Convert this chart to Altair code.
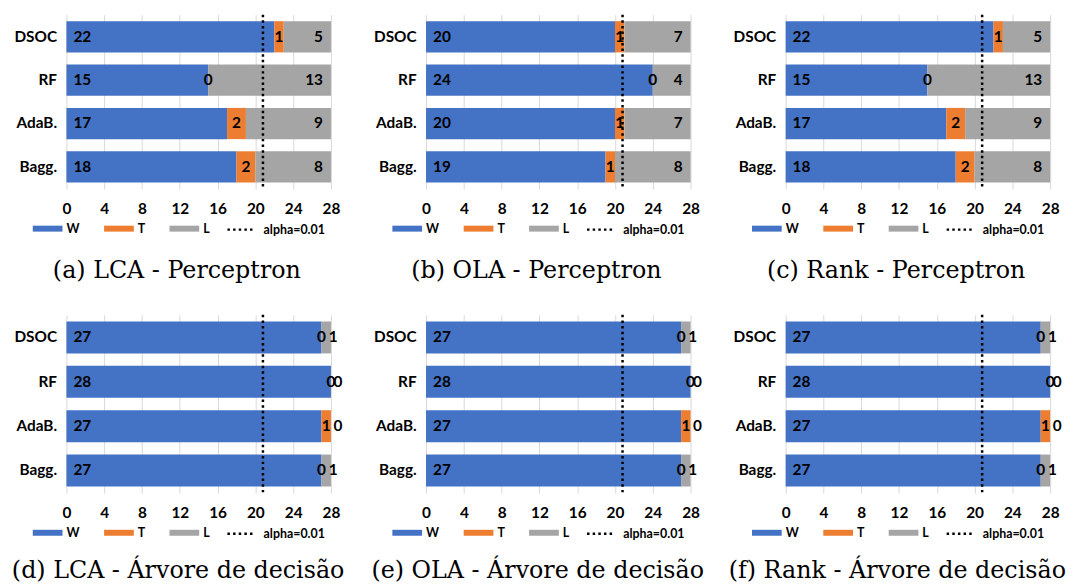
import altair as alt
import pandas as pd

# ---------------- data ----------------
methods = ["DSOC", "RF", "AdaB.", "Bagg."]
outcomes = ["W", "T", "L"]
outcome_colors = ["#4472C4", "#ED7D31", "#A5A5A5"]
x_ticks = [0, 4, 8, 12, 16, 20, 24, 28]
alpha_label = "alpha=0.01"
alpha_critical = 20.8

lca_perc_W = [22, 15, 17, 18]
lca_perc_T = [1, 0, 2, 2]
lca_perc_L = [5, 13, 9, 8]

ola_perc_W = [20, 24, 20, 19]
ola_perc_T = [1, 0, 1, 1]
ola_perc_L = [7, 4, 7, 8]

rank_perc_W = [22, 15, 17, 18]
rank_perc_T = [1, 0, 2, 2]
rank_perc_L = [5, 13, 9, 8]

lca_tree_W = [27, 28, 27, 27]
lca_tree_T = [0, 0, 1, 0]
lca_tree_L = [1, 0, 0, 1]

ola_tree_W = [27, 28, 27, 27]
ola_tree_T = [0, 0, 1, 0]
ola_tree_L = [1, 0, 0, 1]

rank_tree_W = [27, 28, 27, 27]
rank_tree_T = [0, 0, 1, 0]
rank_tree_L = [1, 0, 0, 1]

captions = [
    "(a) LCA - Perceptron",
    "(b) OLA - Perceptron",
    "(c) Rank - Perceptron",
    "(d) LCA - Árvore de decisão",
    "(e) OLA - Árvore de decisão",
    "(f) Rank - Árvore de decisão",
]

panel_series = [
    (lca_perc_W, lca_perc_T, lca_perc_L),
    (ola_perc_W, ola_perc_T, ola_perc_L),
    (rank_perc_W, rank_perc_T, rank_perc_L),
    (lca_tree_W, lca_tree_T, lca_tree_L),
    (ola_tree_W, ola_tree_T, ola_tree_L),
    (rank_tree_W, rank_tree_T, rank_tree_L),
]

SANS = "Lato"
PLOT_W = 267
ROW_H = [176, 176, 176, 180, 180, 180]
LEGEND_Y = [201, 201, 201, 205, 205, 205]
TITLE_OFFSET = [23, 23, 23, 19, 19, 19]
FS = 15.5
LEG_FS = 12.5


def make_panel(W, T, L, caption, h, ly, toff):
    rows = []
    for i, m in enumerate(methods):
        for k, (o, v) in enumerate(zip(outcomes, (W[i], T[i], L[i]))):
            rows.append({"method": m, "outcome": o, "value": v, "order": k})
    df = pd.DataFrame(rows)

    base = alt.Chart(df).transform_stack(
        stack="value", groupby=["method"], sort=[alt.SortField("order")], as_=["x0", "x1"]
    ).transform_calculate(mid="(datum.x0 + datum.x1) / 2")

    y_enc = alt.Y(
        "method:N",
        sort=methods,
        scale=alt.Scale(paddingInner=0.28, paddingOuter=0.15),
        axis=alt.Axis(title=None),
    )
    x_scale = alt.Scale(domain=[0, 28], nice=False, zero=True)

    bars = base.mark_bar().encode(
        y=y_enc,
        x=alt.X("x0:Q", scale=x_scale, axis=alt.Axis(title=None, values=x_ticks)),
        x2="x1:Q",
        color=alt.Color(
            "outcome:N",
            scale=alt.Scale(domain=outcomes, range=outcome_colors),
            legend=alt.Legend(
                title=None, orient="none", direction="horizontal",
                legendX=-34, legendY=ly, padding=0,
                symbolType="M-1,-0.2H1V0.2H-1Z", symbolSize=900,
                symbolStrokeWidth=0, columnPadding=24, gridAlign="none",
                labelFont=SANS, labelFontWeight="bold", labelFontSize=LEG_FS,
                labelColor="black", labelOffset=4,
            ),
        ),
        order=alt.Order("order:Q"),
    )

    txt = dict(font=SANS, fontWeight="bold", fontSize=FS, color="black", baseline="middle")
    ylab = alt.Y("method:N", sort=methods, axis=alt.Axis(title=None))

    def xlab(f):
        return alt.X(f, scale=x_scale, axis=alt.Axis(title=None, values=x_ticks))

    w_lab = base.transform_filter("datum.outcome == 'W'").mark_text(
        align="left", dx=7, **txt
    ).encode(y=ylab, x=xlab("x0:Q"), text="value:Q")

    t_lab = base.transform_filter("datum.outcome == 'T'").mark_text(
        align="center", **txt
    ).encode(y=ylab, x=xlab("mid:Q"), text="value:Q")

    l_big = base.transform_filter("datum.outcome == 'L' && datum.value >= 2").mark_text(
        align="right", dx=-8, **txt
    ).encode(y=ylab, x=xlab("x1:Q"), text="value:Q")

    l_small = base.transform_filter("datum.outcome == 'L' && datum.value < 2").mark_text(
        align="center", dx=7, **txt
    ).encode(y=ylab, x=xlab("mid:Q"), text="value:Q")

    rule = alt.Chart(pd.DataFrame({"alpha": [alpha_critical], "label": [alpha_label]})).mark_rule(
        color="black", strokeWidth=2.5
    ).encode(
        x=xlab("alpha:Q"),
        strokeDash=alt.StrokeDash(
            "label:N",
            scale=alt.Scale(domain=[alpha_label], range=[[2.5, 3.2]]),
            legend=alt.Legend(
                title=None, orient="none", direction="horizontal",
                legendX=161, legendY=ly + 1, padding=0,
                symbolType="stroke", symbolSize=729, symbolStrokeColor="black",
                symbolStrokeWidth=2.5, labelOffset=8,
                labelFont=SANS, labelFontWeight="bold", labelFontSize=LEG_FS,
                labelColor="black",
            ),
        ),
    )

    return alt.layer(bars, rule, w_lab, t_lab, l_big, l_small).properties(
        width=PLOT_W,
        height=h,
        title=alt.TitleParams(
            caption, orient="bottom", anchor="middle", frame="bounds",
            font="DejaVu Serif", fontSize=24, fontWeight="normal", color="black",
            offset=toff,
        ),
    )


panels = [
    make_panel(W, T, L, c, h, ly, to)
    for (W, T, L), c, h, ly, to in zip(panel_series, captions, ROW_H, LEGEND_Y, TITLE_OFFSET)
]

chart = alt.concat(
    *panels, columns=3, spacing={"row": 127, "column": 96}, bounds="flush"
).resolve_scale(
    color="independent", strokeDash="independent"
).properties(
    padding={"left": 3, "top": 2, "right": 0, "bottom": 0}
).configure_view(
    stroke=None
).configure_axis(
    ticks=False, domain=False, labelFont=SANS, labelFontWeight="bold",
    labelFontSize=FS, labelColor="black", labelOverlap=False, labelFlush=False,
).configure_axisX(
    grid=True, gridColor="#D9D9D9", labelPadding=13,
).configure_axisY(
    grid=False, labelPadding=10,
)

chart.save("out.html", embed_options={"renderer": "svg", "actions": False})
